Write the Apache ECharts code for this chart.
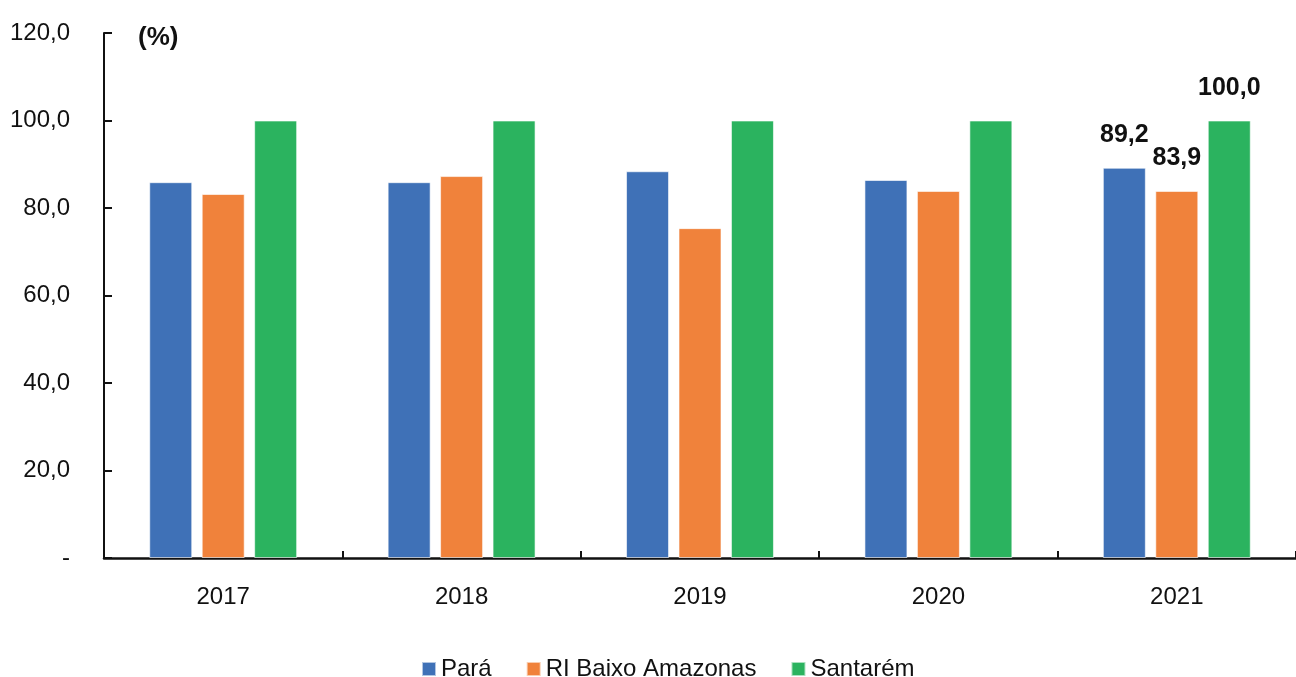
<!DOCTYPE html>
<html><head><meta charset="utf-8">
<script src="https://cdn.jsdelivr.net/npm/echarts@6/dist/echarts.min.js"></script>
<style>html,body{margin:0;padding:0;background:#fff}#c{width:1296px;height:677px}</style>
</head><body><div id="c"></div>
<script>
const categories = ['2017','2018','2019','2020','2021'];
const para = [85.9, 85.9, 88.4, 86.4, 89.2];
const riBaixo = [83.2, 87.3, 75.4, 83.9, 83.9];
const santarem = [100.0, 100.0, 100.0, 100.0, 100.0];
const seriesNames = ['Pará','RI Baixo Amazonas','Santarém'];
const yTicks = [0, 20, 40, 60, 80, 100, 120];

const fmt = v => v === 0 ? '-' : v.toFixed(1).replace('.', ',');
const FONT = '"Liberation Sans", Arial, sans-serif';
const colors = ['#3F71B7', '#F0823B', '#2BB35F'];

const mk = (name, data, i) => ({
  name, type: 'bar', data, barWidth: 43, barGap: '22%',
  itemStyle: { color: colors[i], borderColor: 'rgba(255,255,255,0.6)', borderWidth: 1 },
  label: {
    show: true, position: 'top', distance: 20,
    fontFamily: FONT, fontWeight: 'bold', fontSize: 25, color: '#111',
    formatter: p => p.dataIndex === categories.length - 1 ? fmt(p.value) : ''
  }
});

const chart = echarts.init(document.getElementById('c'), null, { renderer: 'canvas' });
chart.setOption({
  animation: false,
  color: colors,
  textStyle: { fontFamily: FONT },
  title: { text: '(%)', left: 133, top: 20, textStyle: { fontFamily: FONT, fontWeight: 'bold', fontSize: 26, color: '#111' } },
  grid: { left: 104, right: -6, top: 33, bottom: 119, containLabel: false },
  legend: {
    top: 652, left: 416, icon: 'rect', itemWidth: 14, itemHeight: 14, itemGap: 34, itemTextGap: 8,
    textStyle: { fontFamily: FONT, fontSize: 24, color: '#111' },
    data: seriesNames
  },
  xAxis: {
    type: 'category', data: categories,
    axisLine: { lineStyle: { color: '#111', width: 2.5 } },
    axisTick: { show: true, inside: true, length: 7, lineStyle: { color: '#111', width: 2 } },
    axisLabel: { fontFamily: FONT, fontSize: 24, color: '#111', margin: 27 }
  },
  yAxis: {
    type: 'value', min: yTicks[0], max: yTicks[yTicks.length - 1], interval: yTicks[1] - yTicks[0],
    splitLine: { show: false },
    axisLine: { show: true, lineStyle: { color: '#111', width: 2 } },
    axisTick: { show: true, inside: true, length: 8, lineStyle: { color: '#111', width: 2 } },
    axisLabel: { fontFamily: FONT, fontSize: 24, color: '#111', margin: 34, formatter: fmt }
  },
  series: [mk(seriesNames[0], para, 0), mk(seriesNames[1], riBaixo, 1), mk(seriesNames[2], santarem, 2)]
});
</script></body></html>
